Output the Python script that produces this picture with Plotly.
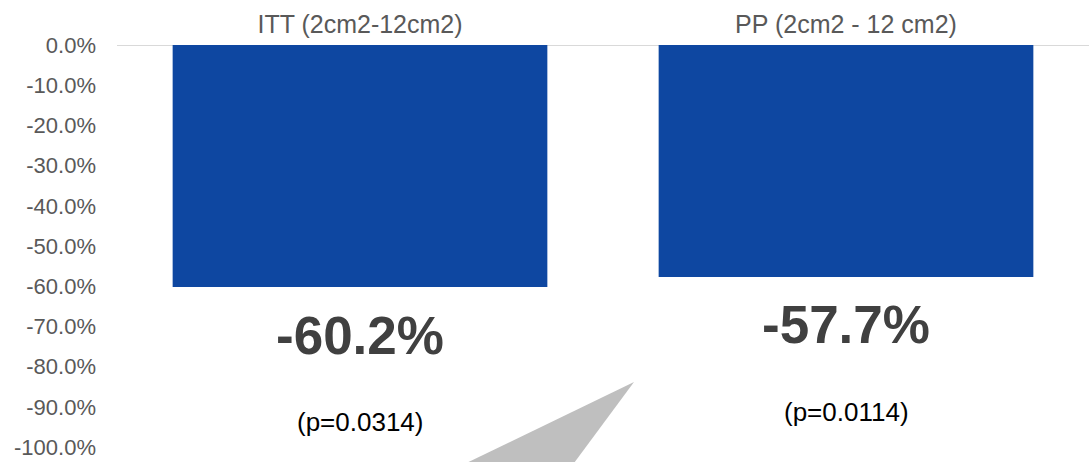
import plotly.graph_objects as go

categories = ["ITT (2cm2-12cm2)", "PP (2cm2 - 12 cm2)"]
values = [-60.2, -57.7]
value_labels = ["-60.2%", "-57.7%"]
p_labels = ["(p=0.0314)", "(p=0.0114)"]
tick_vals = [0, -10, -20, -30, -40, -50, -60, -70, -80, -90, -100]
tick_text = ["0.0%", "-10.0%", "-20.0%", "-30.0%", "-40.0%", "-50.0%",
             "-60.0%", "-70.0%", "-80.0%", "-90.0%", "-100.0%"]

FONT = "Liberation Sans, Arial, sans-serif"

fig = go.Figure()
fig.add_trace(go.Bar(
    x=categories, y=values,
    marker=dict(color="#0e47a1", line=dict(width=0)),
    hoverinfo="skip",
))

for c, v, lab, p in zip(categories, values, value_labels, p_labels):
    fig.add_annotation(x=c, y=v, text=lab, showarrow=False, yanchor="middle",
                       yshift=-48, font=dict(family=FONT, size=53, color="#404040",
                                             weight="bold"))
    fig.add_annotation(x=c, y=v, text=p, showarrow=False, yanchor="middle",
                       yshift=-135, font=dict(family=FONT, size=26, color="#000000"))

# zero line
fig.add_shape(type="line", xref="paper", yref="y", x0=0, x1=1, y0=0, y1=0,
              line=dict(color="#d9d9d9", width=2), layer="below")

# grey callout pointer (decorative)
fig.add_shape(type="path", xref="paper", yref="paper",
              path="M 0.5319 0.1617 L 0.3508 -0.05 L 0.4671 -0.05 Z",
              fillcolor="#bfbfbf", line=dict(width=0), layer="above")

fig.update_layout(
    width=1089, height=462,
    margin=dict(l=117, r=0, t=45, b=15),
    paper_bgcolor="white", plot_bgcolor="white",
    bargap=0.229,
    showlegend=False,
    xaxis=dict(side="top", showgrid=False, zeroline=False, showline=False,
               ticks="", tickfont=dict(family=FONT, size=25, color="#595959"),
               ticklabelstandoff=6),
    yaxis=dict(range=[-100, 0], showgrid=False, zeroline=False, showline=False,
               tickmode="array", tickvals=tick_vals, ticktext=tick_text,
               ticks="", ticklabelstandoff=20,
               tickfont=dict(family=FONT, size=22, color="#595959")),
)

fig.write_html("out.html")
